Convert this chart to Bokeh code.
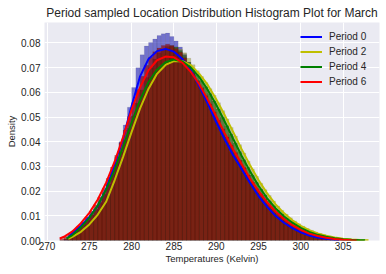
from bokeh.plotting import figure
from bokeh.models import Range1d, Legend, LegendItem, FixedTicker, NumeralTickFormatter
from bokeh.embed import file_html
from bokeh.resources import INLINE

title_text = "Period sampled Location Distribution Histogram Plot for March"
x_label = "Temperatures (Kelvin)"
y_label = "Density"
x_ticks = [270, 275, 280, 285, 290, 295, 300, 305]
y_ticks = [0.0, 0.01, 0.02, 0.03, 0.04, 0.05, 0.06, 0.07, 0.08]
periods = ["Period 0", "Period 2", "Period 4", "Period 6"]

# histogram bins (0.5 K wide, starting at 271.5 K)
bin_start = 271.5
bin_width = 0.5

hist_p0 = [
    0.0, 0.0006, 0.0020, 0.0034, 0.0050, 0.0066, 0.0083, 0.0103, 0.0125, 0.0152,
    0.0186, 0.0228, 0.0280, 0.0338, 0.0400, 0.0468, 0.0540, 0.0620, 0.0700, 0.0752,
    0.0788, 0.0802, 0.0816, 0.0830, 0.0837, 0.0840, 0.0826, 0.0808, 0.0784, 0.0756,
    0.0722, 0.0686, 0.0648, 0.0610, 0.0570, 0.0532, 0.0495, 0.0458, 0.0423, 0.0390,
    0.0358, 0.0328, 0.0300, 0.0273, 0.0245, 0.0218, 0.0193, 0.0168, 0.0147, 0.0127,
    0.0109, 0.0092, 0.0078, 0.0066, 0.0055, 0.0045, 0.0037, 0.0029, 0.0023, 0.0018,
    0.0014, 0.0010, 0.0008, 0.0005, 0.0003, 0.0002, 0.0001, 0.0, 0.0, 0.0,
    0.0, 0.0,
]
hist_p2 = [
    0.0, 0.0, 0.0010, 0.0020, 0.0032, 0.0046, 0.0062, 0.0080, 0.0100, 0.0122,
    0.0148, 0.0178, 0.0214, 0.0256, 0.0302, 0.0352, 0.0404, 0.0458, 0.0512, 0.0565,
    0.0615, 0.0660, 0.0698, 0.0730, 0.0755, 0.0772, 0.0782, 0.0784, 0.0776, 0.0760,
    0.0738, 0.0712, 0.0688, 0.0664, 0.0640, 0.0615, 0.0588, 0.0558, 0.0526, 0.0492,
    0.0458, 0.0423, 0.0388, 0.0354, 0.0321, 0.0290, 0.0260, 0.0232, 0.0206, 0.0182,
    0.0160, 0.0140, 0.0122, 0.0106, 0.0092, 0.0079, 0.0068, 0.0058, 0.0049, 0.0041,
    0.0034, 0.0028, 0.0023, 0.0018, 0.0014, 0.0011, 0.0008, 0.0006, 0.0004, 0.0003,
    0.0002, 0.0001,
]
hist_p4 = [
    0.0, 0.0006, 0.0016, 0.0030, 0.0045, 0.0062, 0.0081, 0.0103, 0.0128, 0.0157,
    0.0190, 0.0228, 0.0268, 0.0312, 0.0358, 0.0406, 0.0455, 0.0505, 0.0556, 0.0610,
    0.0660, 0.0700, 0.0735, 0.0760, 0.0776, 0.0786, 0.0789, 0.0784, 0.0770, 0.0750,
    0.0722, 0.0690, 0.0672, 0.0648, 0.0623, 0.0595, 0.0565, 0.0533, 0.0499, 0.0465,
    0.0430, 0.0395, 0.0360, 0.0327, 0.0296, 0.0265, 0.0236, 0.0209, 0.0184, 0.0161,
    0.0141, 0.0122, 0.0106, 0.0091, 0.0078, 0.0066, 0.0056, 0.0047, 0.0039, 0.0032,
    0.0026, 0.0021, 0.0017, 0.0013, 0.0010, 0.0008, 0.0006, 0.0004, 0.0003, 0.0002,
    0.0001, 0.0001,
]
hist_p6 = [
    0.0008, 0.0016, 0.0028, 0.0042, 0.0058, 0.0075, 0.0095, 0.0118, 0.0145, 0.0176,
    0.0212, 0.0252, 0.0298, 0.0345, 0.0396, 0.0448, 0.0502, 0.0558, 0.0612, 0.0665,
    0.0710, 0.0742, 0.0765, 0.0780, 0.0790, 0.0795, 0.0790, 0.0778, 0.0762, 0.0740,
    0.0712, 0.0680, 0.0645, 0.0618, 0.0586, 0.0553, 0.0520, 0.0486, 0.0452, 0.0419,
    0.0386, 0.0355, 0.0325, 0.0295, 0.0265, 0.0237, 0.0212, 0.0189, 0.0166, 0.0145,
    0.0127, 0.0110, 0.0095, 0.0081, 0.0068, 0.0057, 0.0048, 0.0039, 0.0032, 0.0026,
    0.0020, 0.0016, 0.0012, 0.0009, 0.0007, 0.0005, 0.0003, 0.0002, 0.0001, 0.0001,
    0.0, 0.0,
]

# fitted density curves
curve_p0_t = [272.4, 273, 274, 275, 276, 277, 278, 279, 280, 281, 282, 283, 284, 285, 286,
              287, 288, 289, 290, 291, 292, 293, 294, 295, 296, 297, 298, 299, 300, 301,
              302, 303, 304, 304.5]
curve_p0_d = [0.0008, 0.0030, 0.0060, 0.0095, 0.0140, 0.0210, 0.0310, 0.0415, 0.0545, 0.0665,
              0.0735, 0.0767, 0.0776, 0.0765, 0.0735, 0.0690, 0.0625, 0.0555, 0.0480, 0.0410,
              0.0345, 0.0290, 0.0233, 0.0180, 0.0137, 0.0100, 0.0072, 0.0050, 0.0033, 0.0020,
              0.0012, 0.0007, 0.0003, 0.0002]
curve_p2_t = [272.5, 273, 274, 275, 276, 277, 278, 279, 280, 281, 282, 283, 284, 285, 286,
              287, 288, 289, 290, 291, 292, 293, 294, 295, 296, 297, 298, 299, 300, 301,
              302, 303, 304, 305, 306, 307, 308]
curve_p2_d = [0.0007, 0.0015, 0.0035, 0.0065, 0.0105, 0.0158, 0.0245, 0.0340, 0.0440, 0.0535,
              0.0615, 0.0675, 0.0711, 0.0727, 0.0726, 0.0710, 0.0675, 0.0630, 0.0572, 0.0508,
              0.0440, 0.0370, 0.0305, 0.0245, 0.0192, 0.0147, 0.0111, 0.0082, 0.0059, 0.0042,
              0.0029, 0.0019, 0.0012, 0.0007, 0.0004, 0.0002, 0.0001]
curve_p4_t = [272.3, 273, 274, 275, 276, 277, 278, 279, 280, 281, 282, 283, 284, 285, 286,
              287, 288, 289, 290, 291, 292, 293, 294, 295, 296, 297, 298, 299, 300, 301,
              302, 303, 304, 305, 306, 307, 307.6]
curve_p4_d = [0.0008, 0.0022, 0.0053, 0.0092, 0.0142, 0.0207, 0.0287, 0.0380, 0.0478, 0.0570,
              0.0642, 0.0692, 0.0722, 0.0733, 0.0725, 0.0700, 0.0662, 0.0610, 0.0550, 0.0482,
              0.0412, 0.0343, 0.0280, 0.0222, 0.0172, 0.0131, 0.0098, 0.0072, 0.0051, 0.0035,
              0.0023, 0.0015, 0.0009, 0.0005, 0.0003, 0.00015, 0.00008]
curve_p6_t = [271.5, 272, 273, 274, 275, 276, 277, 278, 279, 280, 281, 282, 283, 284, 285,
              286, 287, 288, 289, 290, 291, 292, 293, 294, 295, 296, 297, 298, 299, 300,
              301, 302, 303, 304, 305, 306, 306.6]
curve_p6_d = [0.0008, 0.0015, 0.0037, 0.0070, 0.0112, 0.0166, 0.0235, 0.0320, 0.0420, 0.0530,
              0.0620, 0.0690, 0.0730, 0.0745, 0.0742, 0.0720, 0.0683, 0.0633, 0.0570, 0.0503,
              0.0435, 0.0370, 0.0310, 0.0250, 0.0200, 0.0155, 0.0118, 0.0087, 0.0062, 0.0043,
              0.0028, 0.0018, 0.0011, 0.0006, 0.0003, 0.0001, 0.00005]

hists = [hist_p0, hist_p2, hist_p4, hist_p6]
curves = [(curve_p0_t, curve_p0_d), (curve_p2_t, curve_p2_d),
          (curve_p4_t, curve_p4_d), (curve_p6_t, curve_p6_d)]
line_colors = ["#0000ff", "#bfbf00", "#008000", "#ff0000"]
fill_colors = ["#2828b4", "#96961e", "#0a460a", "#960000"]
fill_alphas = [0.62, 0.5, 0.55, 0.65]

FONT = "Liberation Sans"
TXT = "#262626"

p = figure(width=386, height=274, x_range=Range1d(269.7, 309.3), y_range=Range1d(0, 0.0883),
           output_backend="svg", toolbar_location=None,
           min_border_left=44, min_border_right=7, min_border_top=22, min_border_bottom=34)
p.background_fill_color = "#EAEAF2"
p.border_fill_color = "white"
p.outline_line_color = None

p.title.text = title_text
p.title.align = "center"
p.title.text_font = FONT
p.title.text_font_size = "12px"
p.title.text_font_style = "normal"
p.title.text_color = TXT
p.title.standoff = 6

p.xaxis.ticker = FixedTicker(ticks=x_ticks)
p.yaxis.ticker = FixedTicker(ticks=y_ticks)
p.yaxis.formatter = NumeralTickFormatter(format="0.00")
for ax in (p.xaxis, p.yaxis):
    ax.axis_line_color = None
    ax.major_tick_line_color = None
    ax.minor_tick_line_color = None
    ax.major_tick_out = 0
    ax.major_tick_in = 0
    ax.minor_tick_out = 0
    ax.major_label_text_font = FONT
    ax.major_label_text_font_size = "10px"
    ax.major_label_text_color = TXT
    ax.axis_label_text_font = FONT
    ax.axis_label_text_font_size = "9.5px"
    ax.axis_label_text_font_style = "normal"
    ax.axis_label_text_color = TXT
p.xaxis.axis_label = x_label
p.yaxis.axis_label = y_label
p.xaxis.major_label_standoff = 1
p.yaxis.major_label_standoff = 4
p.xaxis.axis_label_standoff = 0
p.yaxis.axis_label_standoff = 1

p.grid.grid_line_color = "white"
p.grid.grid_line_width = 1

edges = [bin_start + i * bin_width for i in range(len(hist_p0) + 1)]
for h, fc, fa in zip(hists, fill_colors, fill_alphas):
    p.quad(left=edges[:-1], right=edges[1:], top=h, bottom=0,
           fill_color=fc, fill_alpha=fa, line_color="black", line_alpha=0.12, line_width=0.6)

items = []
for (t, d), lc, name in zip(curves, line_colors, periods):
    r = p.line(t, d, line_color=lc, line_width=2)
    items.append(LegendItem(label=name, renderers=[r]))

legend = Legend(items=items, location=(256, 151))
legend.background_fill_alpha = 0
legend.border_line_color = None
legend.label_text_font = FONT
legend.label_text_font_size = "10px"
legend.label_text_color = TXT
legend.glyph_width = 22
legend.glyph_height = 15
legend.label_height = 15
legend.label_standoff = 7
legend.spacing = 0
legend.padding = 5
legend.margin = 0
p.add_layout(legend)

open("out.html", "w").write(file_html(p, INLINE))
